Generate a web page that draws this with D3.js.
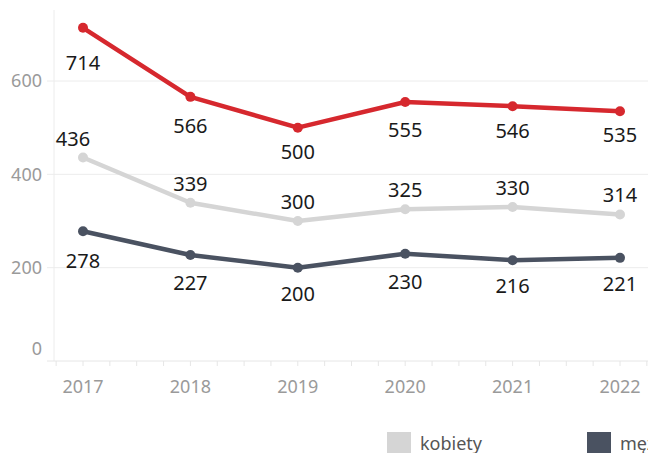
<!DOCTYPE html>
<html>
<head>
<meta charset="utf-8">
<script src="https://cdn.jsdelivr.net/npm/d3@7"></script>
<style>
  html, body { margin: 0; padding: 0; background: #fff; overflow: hidden; }
  svg { display: block; }
</style>
</head>
<body>
<svg id="chart" width="648" height="453"></svg>
<script>
// ---- data ----
const years = [2017, 2018, 2019, 2020, 2021, 2022];
const ogolem = [714, 566, 500, 555, 546, 535];
const kobiety = [436, 339, 300, 325, 330, 314];
const mezczyzni = [278, 227, 200, 230, 216, 221];
const yTicks = [0, 200, 400, 600];
const legendLabels = ["kobiety", "mężczyźni"];

// ---- styles ----
const COLORS = { ogolem: "#d6282e", kobiety: "#d5d5d5", mezczyzni: "#4a5261" };
const FONT = "'Noto Sans', 'Open Sans', sans-serif";

const svg = d3.select("#chart");
const W = 648, H = 453;

const x = d3.scaleLinear().domain([2017, 2022]).range([83, 620]);
const y = d3.scaleLinear().domain([0, 600]).range([361, 81]);
const xLeft = 54;
const xEnd = x.invert(W + 10);

// gridlines
svg.append("g").selectAll("line").data(yTicks.filter(d => d > 0)).enter().append("line")
  .attr("x1", 47).attr("x2", W).attr("y1", d => y(d)).attr("y2", d => y(d))
  .attr("stroke", "#ececec").attr("stroke-width", 1);

// y axis line
svg.append("line").attr("x1", xLeft).attr("x2", xLeft).attr("y1", 10).attr("y2", y(0))
  .attr("stroke", "#ececec").attr("stroke-width", 1);
// x axis line
svg.append("line").attr("x1", 47).attr("x2", W).attr("y1", y(0)).attr("y2", y(0))
  .attr("stroke", "#e6e6e6").attr("stroke-width", 1);

// x quarter ticks
const qTicks = d3.range(2016.75, xEnd, 0.25);
svg.append("g").selectAll("line").data(qTicks).enter().append("line")
  .attr("x1", d => x(d)).attr("x2", d => x(d))
  .attr("y1", y(0)).attr("y2", y(0) + 5)
  .attr("stroke", "#e6e6e6").attr("stroke-width", 1);

// y tick labels
svg.append("g").selectAll("text").data(yTicks).enter().append("text")
  .attr("x", 42).attr("y", d => d === 0 ? y(d) - 12 : y(d))
  .attr("dy", "0.35em").attr("text-anchor", "end")
  .attr("font-family", FONT).attr("font-size", 18).attr("fill", "#9a9a9a")
  .text(d => d);

// x tick labels
svg.append("g").selectAll("text").data(years).enter().append("text")
  .attr("x", d => x(d)).attr("y", 387).attr("dy", "0.35em")
  .attr("text-anchor", "middle")
  .attr("font-family", FONT).attr("font-size", 18).attr("fill", "#9a9a9a")
  .text(d => d);

const series = [
  { key: "kobiety", values: kobiety, pos: "above", margin: 18 },
  { key: "mezczyzni", values: mezczyzni, pos: "below", margin: 18 },
  { key: "ogolem", values: ogolem, pos: "below", margin: 16 }
];

const line = d3.line().x(d => x(d.year)).y(d => y(d.v));

series.forEach(s => {
  const pts = years.map((yr, i) => ({ year: yr, v: s.values[i] }));
  const g = svg.append("g");
  g.append("path").datum(pts).attr("d", line)
    .attr("fill", "none").attr("stroke", COLORS[s.key])
    .attr("stroke-width", 4.5).attr("stroke-linejoin", "round");
  g.selectAll("circle").data(pts).enter().append("circle")
    .attr("cx", d => x(d.year)).attr("cy", d => y(d.v)).attr("r", 5)
    .attr("fill", COLORS[s.key]);
});

// labels
series.forEach(s => {
  const pts = years.map((yr, i) => ({ year: yr, v: s.values[i], i }));
  const half = 18;
  const lineYAt = (px) => {
    for (let k = 0; k < pts.length - 1; k++) {
      const x0 = x(pts[k].year), x1 = x(pts[k + 1].year);
      if (px >= x0 && px <= x1) {
        const t = (px - x0) / (x1 - x0);
        return y(pts[k].v) + t * (y(pts[k + 1].v) - y(pts[k].v));
      }
    }
    return null;
  };
  svg.append("g").selectAll("text").data(pts).enter().append("text")
    .attr("x", d => x(d.year) - (s.pos === "above" && d.i === 0 ? 10 : 0))
    .attr("y", d => {
      const cx = x(d.year), cy = y(d.v);
      if (s.pos === "above") return cy - 19;
      let maxY = cy;
      [cx - half, cx + half].forEach(px => {
        const ly = lineYAt(px);
        if (ly !== null) maxY = Math.max(maxY, ly);
      });
      return maxY + s.margin + 8;
    })
    .attr("dy", "0.35em").attr("text-anchor", "middle")
    .attr("font-family", FONT).attr("font-size", 20).attr("fill", "#1a1a1a")
    .text(d => d.v);
});

// legend
const leg = svg.append("g");
const legItems = [
  { label: legendLabels[0], color: COLORS.kobiety, x: 387 },
  { label: legendLabels[1], color: COLORS.mezczyzni, x: 587 }
];
legItems.forEach(it => {
  leg.append("rect").attr("x", it.x).attr("y", 432).attr("width", 24).attr("height", 24)
    .attr("fill", it.color);
  leg.append("text").attr("x", it.x + 33).attr("y", 450)
    .attr("font-family", FONT).attr("font-size", 18).attr("fill", "#555")
    .text(it.label);
});
</script>
</body>
</html>
